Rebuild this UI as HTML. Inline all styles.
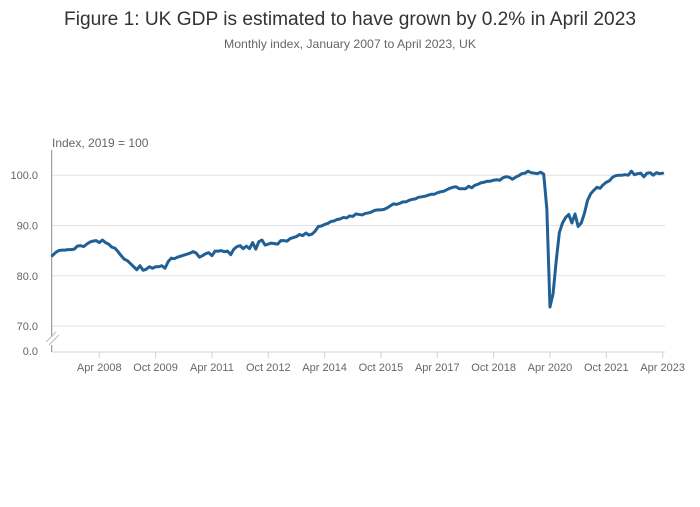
<!DOCTYPE html>
<html><head><meta charset="utf-8"><style>
html,body{margin:0;padding:0;background:#fff;}
svg text{font-family:"Liberation Sans",sans-serif;}
</style></head><body>
<svg id="chart" width="700" height="502" xmlns="http://www.w3.org/2000/svg">
<text x="350" y="25" text-anchor="middle" font-size="19" fill="#333" textLength="572" lengthAdjust="spacingAndGlyphs">Figure 1: UK GDP is estimated to have grown by 0.2% in April 2023</text>
<text x="350" y="48" text-anchor="middle" font-size="12" fill="#666" textLength="252" lengthAdjust="spacingAndGlyphs">Monthly index, January 2007 to April 2023, UK</text>
<text x="52" y="147" font-size="12" fill="#666">Index, 2019 = 100</text>
<g id="grid"></g><g id="xaxis"></g><g id="plot"></g>
</svg>
<script>
const yTicks=[100,90,80,70];
const xTickLabels=["Apr 2008","Oct 2009","Apr 2011","Oct 2012","Apr 2014","Oct 2015","Apr 2017","Oct 2018","Apr 2020","Oct 2021","Apr 2023"];
const xTickMonths=[15,33,51,69,87,105,123,141,159,177,195];
const gdp2007=[84.0,84.6,85.0,85.1,85.1,85.2,85.2,85.3,85.9,86.0,85.8,86.3];
const gdp2008=[86.7,86.9,87.0,86.6,87.1,86.6,86.3,85.7,85.5,84.8,84.0,83.3];
const gdp2009=[83.0,82.4,81.8,81.2,82.0,81.1,81.3,81.8,81.5,81.8,81.8,82.0];
const gdp2010=[81.5,82.8,83.5,83.4,83.7,83.9,84.1,84.3,84.5,84.8,84.5,83.7];
const gdp2011=[84.0,84.4,84.6,84.0,84.9,84.9,85.0,84.8,84.9,84.2,85.3,85.8];
const gdp2012=[86.0,85.4,85.9,85.4,86.6,85.3,86.8,87.1,86.1,86.3,86.5,86.4];
const gdp2013=[86.3,87.0,87.0,86.9,87.4,87.6,87.8,88.2,88.0,88.5,88.1,88.3];
const gdp2014=[88.9,89.8,89.9,90.2,90.4,90.8,90.9,91.2,91.3,91.6,91.5,91.9];
const gdp2015=[91.8,92.3,92.2,92.1,92.4,92.5,92.7,93.0,93.1,93.1,93.2,93.5];
const gdp2016=[93.9,94.3,94.2,94.4,94.7,94.7,95.0,95.2,95.3,95.6,95.7,95.8];
const gdp2017=[96.0,96.2,96.2,96.5,96.7,96.8,97.1,97.4,97.6,97.7,97.3,97.3];
const gdp2018=[97.3,97.8,97.5,98.0,98.2,98.5,98.6,98.8,98.8,99.0,99.1,99.0];
const gdp2019=[99.5,99.7,99.6,99.2,99.6,99.9,100.3,100.4,100.8,100.5,100.4,100.3];
const gdp2020=[100.6,100.2,93.3,73.8,76.5,83.0,88.6,90.5,91.6,92.2,90.5,92.3];
const gdp2021=[89.8,90.5,92.4,95.0,96.3,97.0,97.6,97.4,98.1,98.6,98.9,99.6];
const gdp2022=[99.9,100.0,100.0,100.1,100.0,100.8,100.1,100.3,100.4,99.7,100.4,100.5];
const gdp2023=[100.0,100.5,100.3,100.4];
const series=[].concat(gdp2007,gdp2008,gdp2009,gdp2010,gdp2011,gdp2012,gdp2013,gdp2014,gdp2015,gdp2016,gdp2017,gdp2018,gdp2019,gdp2020,gdp2021,gdp2022,gdp2023);
const NS="http://www.w3.org/2000/svg";
const X0=52.3,PXM=3.13;
function xScale(m){return X0+m*PXM;}
function yScale(v){return 175.2+(100-v)*5.03;}
function mk(tag,attrs,parent){const e=document.createElementNS(NS,tag);for(const k in attrs)e.setAttribute(k,attrs[k]);parent.appendChild(e);return e;}
const grid=document.getElementById('grid'),xa=document.getElementById('xaxis'),plot=document.getElementById('plot');
yTicks.forEach(v=>{
  const l=mk('line',{x1:52,x2:665,y1:yScale(v),y2:yScale(v),stroke:'#e2e2e2','stroke-width':1},grid);
  
  
  const t=mk('text',{x:38,y:yScale(v)+4,'text-anchor':'end','font-size':11,fill:'#666'},grid);
  t.textContent=v.toFixed(1);
  
  
});
const z=mk('text',{x:38,y:355,'text-anchor':'end','font-size':11,fill:'#666'},grid);z.textContent='0.0';


const a1=mk('line',{x1:51.7,x2:51.7,y1:150,y2:337,stroke:'#888','stroke-width':1},xa);


const a2=mk('line',{x1:51.7,x2:51.7,y1:345,y2:352,stroke:'#888','stroke-width':1},xa);


[[0,0],[3,3]].forEach(o=>{const b=mk('line',{x1:46+o[0],y1:342+o[1],x2:56+o[0],y2:332+o[1],stroke:'#bbb','stroke-width':1},xa);

});
const base=mk('line',{x1:52,x2:665,y1:352,y2:352,stroke:'#c8d4e8','stroke-width':1},xa);


xTickMonths.forEach((m,i)=>{
  const tk=mk('line',{x1:xScale(m),x2:xScale(m),y1:352,y2:358,stroke:'#c8d4e8','stroke-width':1},xa);
  
  
  const t=mk('text',{x:xScale(m),y:371,'text-anchor':'middle','font-size':11,fill:'#666'},xa);
  t.textContent=xTickLabels[i];
  
  
});
const d=series.map((v,i)=>(i?'L':'M')+xScale(i).toFixed(2)+' '+yScale(v).toFixed(2)).join(' ');
const p=mk('path',{d:d,fill:'none',stroke:'#206095','stroke-width':3,'stroke-linejoin':'round','stroke-linecap':'round'},plot);


</script>
</body></html>
